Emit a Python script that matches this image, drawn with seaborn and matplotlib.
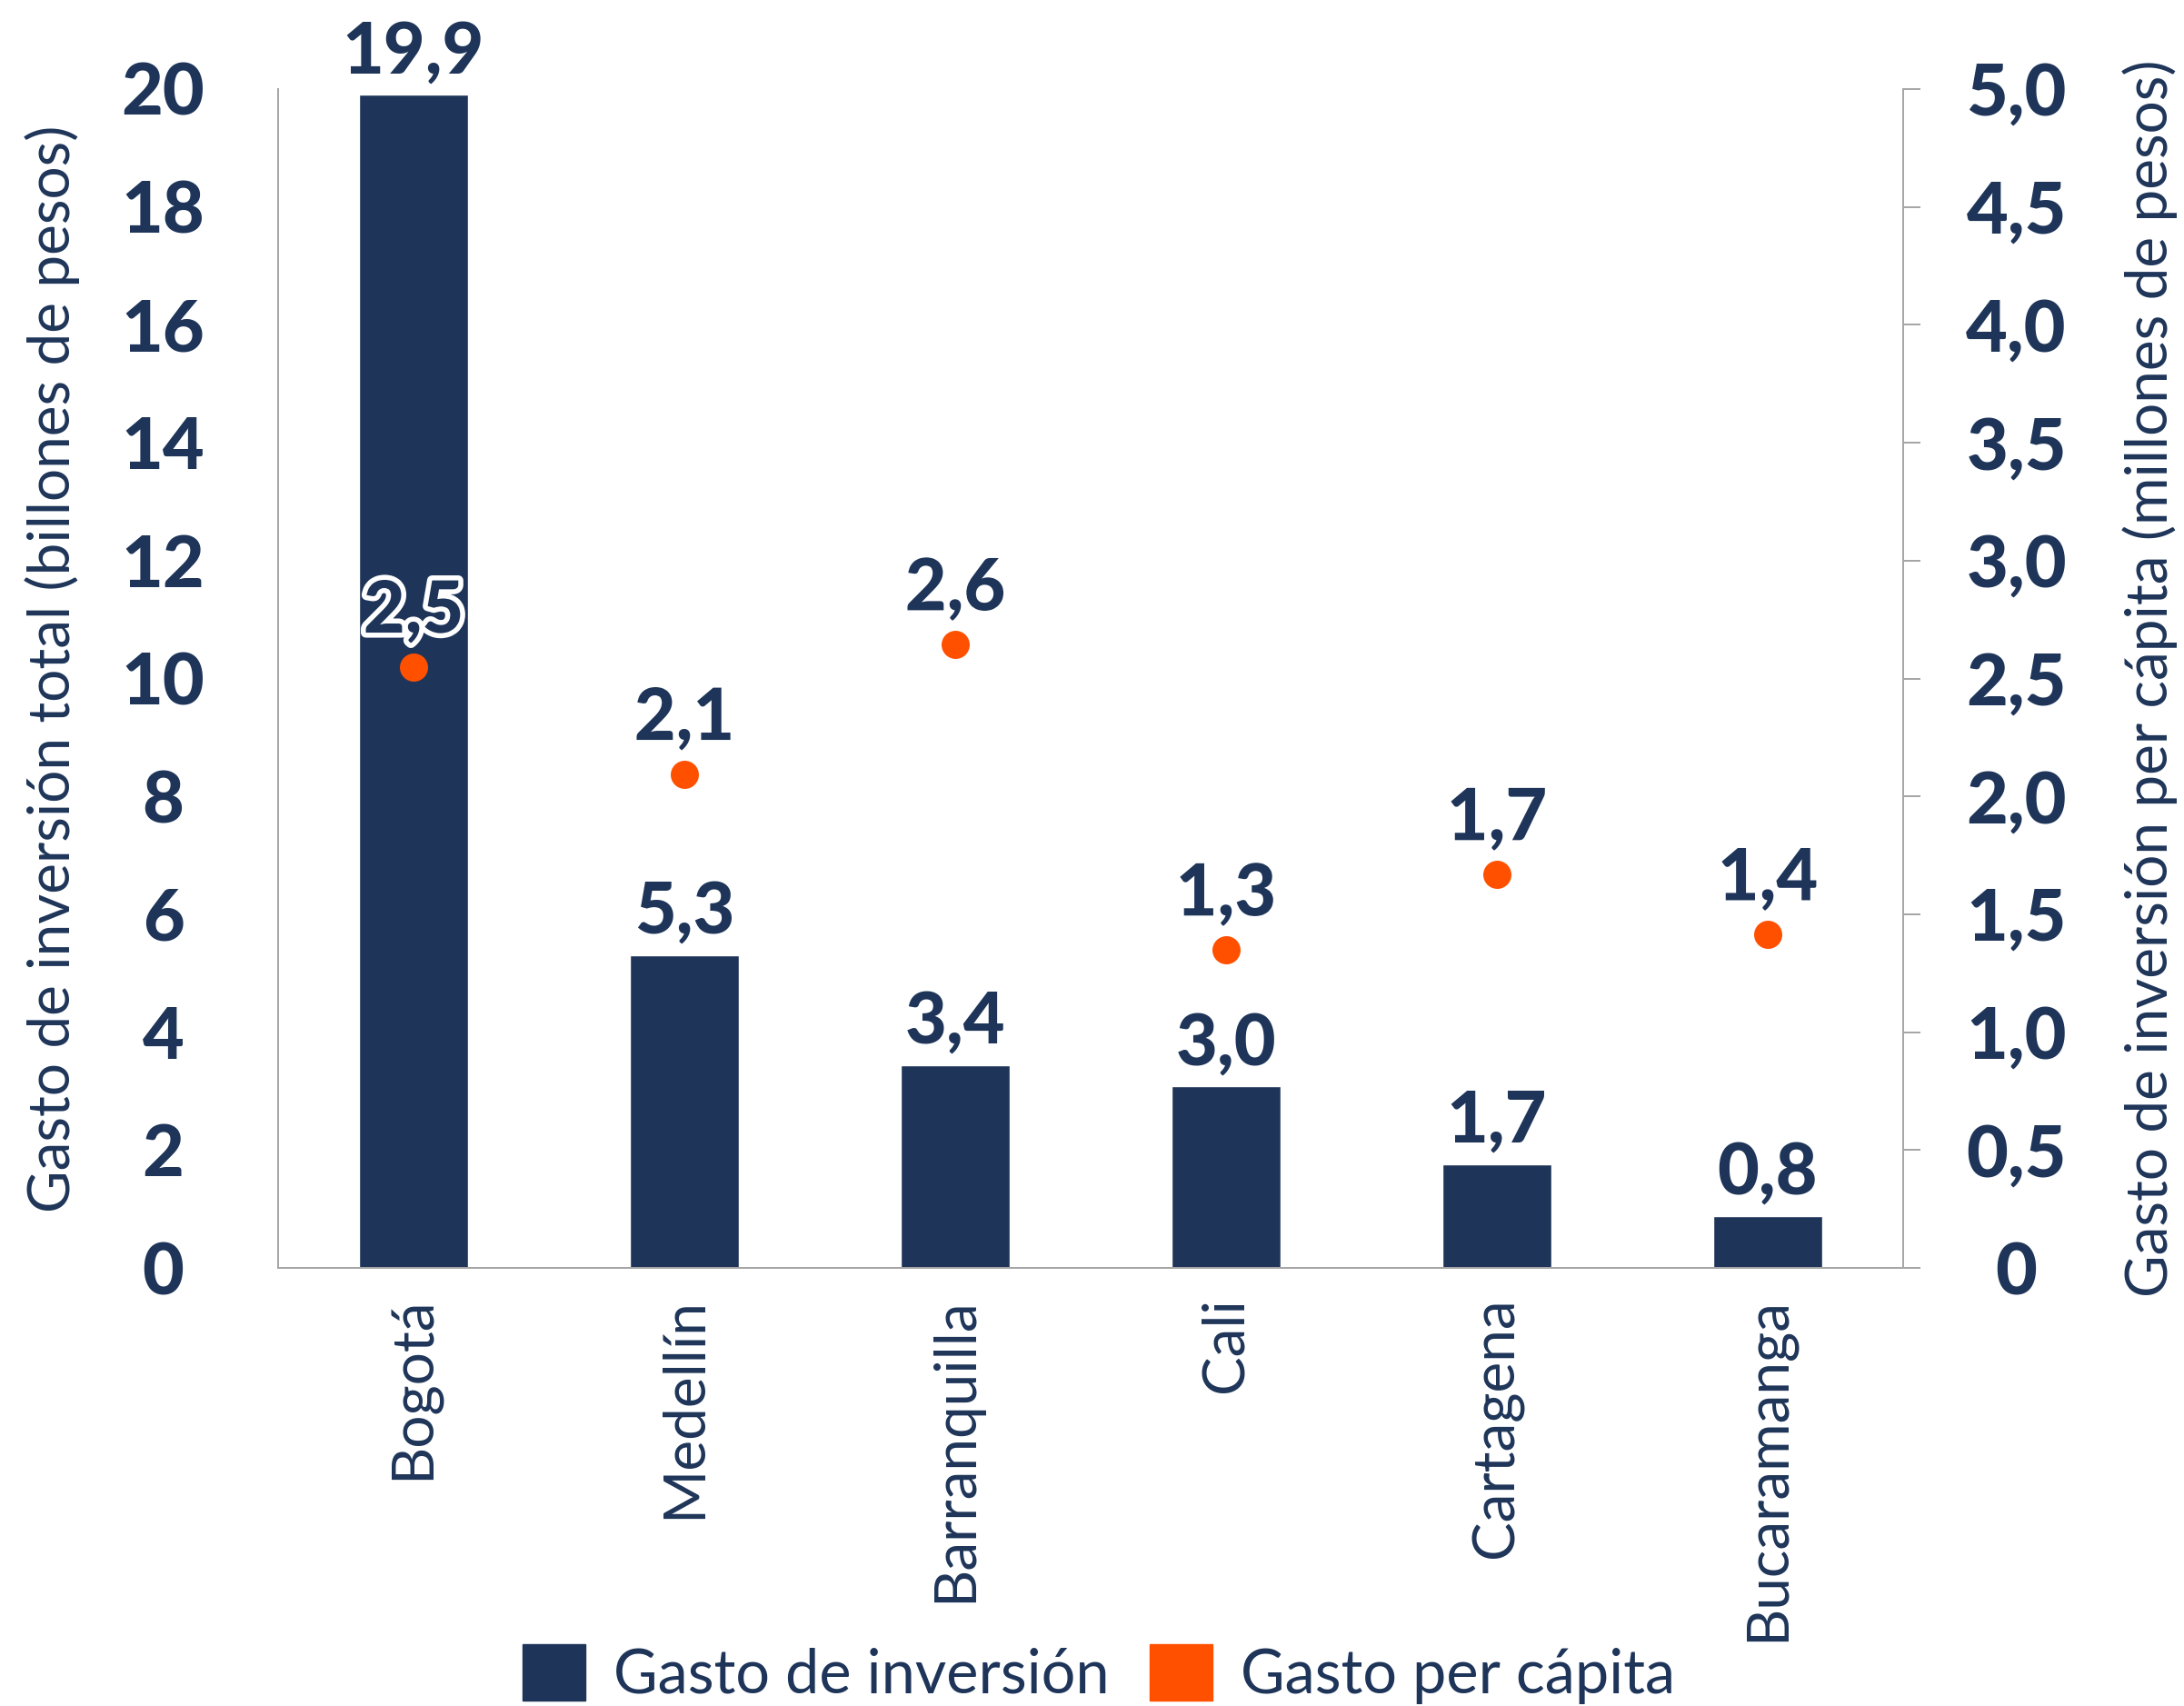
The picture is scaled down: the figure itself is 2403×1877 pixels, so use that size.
import matplotlib
matplotlib.use("Agg")
import matplotlib.pyplot as plt
import matplotlib.patheffects as pe
from matplotlib.patches import Patch
import seaborn as sns
import pandas as pd

# ---- data ----
ciudades = ["Bogotá", "Medellín", "Barranquilla", "Cali", "Cartagena", "Bucaramanga"]
gasto_inversion = [19.9, 5.31, 3.44, 3.08, 1.76, 0.88]
etiquetas_inversion = ["19,9", "5,3", "3,4", "3,0", "1,7", "0,8"]
gasto_per_capita = [2.55, 2.095, 2.645, 1.35, 1.67, 1.415]
etiquetas_per_capita = ["2,5", "2,1", "2,6", "1,3", "1,7", "1,4"]
ticks_izq = [0, 2, 4, 6, 8, 10, 12, 14, 16, 18, 20]
ticks_der = [0, 0.5, 1.0, 1.5, 2.0, 2.5, 3.0, 3.5, 4.0, 4.5, 5.0]
ticks_der_lbl = ["0", "0,5", "1,0", "1,5", "2,0", "2,5", "3,0", "3,5", "4,0", "4,5", "5,0"]
leyenda = ["Gasto de inversión", "Gasto per cápita"]

NAVY = "#1e3559"
ORANGE = "#ff5000"
GRAY = "#a6a6a6"
NUMW = "black"

sns.set_style("white")
plt.rcParams['font.family'] = ['Lato', 'DejaVu Sans']

df = pd.DataFrame({"ciudad": ciudades, "inv": gasto_inversion, "pc": gasto_per_capita})

fig = plt.figure(figsize=(24.03, 18.77), dpi=100)
ax = fig.add_axes([0.12734, 0.25679, 0.74407, 0.69100])

sns.barplot(data=df, x="ciudad", y="inv", order=ciudades, color=NAVY,
            saturation=1, width=0.4, ax=ax)
ax.bar_label(ax.containers[0], labels=etiquetas_inversion, padding=8,
             fontsize=57, fontweight=NUMW, color=NAVY)

ax2 = ax.twinx()
sns.stripplot(data=df, x="ciudad", y="pc", order=ciudades, jitter=False,
              color=ORANGE, size=22.3, linewidth=0, ax=ax2, zorder=3)
for i, (v, lab) in enumerate(zip(gasto_per_capita, etiquetas_per_capita)):
    ax2.annotate(lab, (i, v), xytext=(0, 27), textcoords='offset points',
                 ha='center', va='baseline', fontsize=57, fontweight=NUMW,
                 color=NAVY, zorder=5,
                 path_effects=[pe.withStroke(linewidth=8, foreground='white')])

ax.set_xlim(-0.5, 5.5)
ax.set_ylim(0, 20)
ax2.set_ylim(0, 5)

ax.set_yticks(ticks_izq)
ax.set_yticklabels([str(t) for t in ticks_izq], fontsize=57, fontweight=NUMW,
                   color=NAVY, ha='center')
ax.tick_params(axis='y', length=0, pad=91)

ax2.set_yticks(ticks_der)
ax2.set_yticklabels(ticks_der_lbl, fontsize=57, fontweight=NUMW, color=NAVY, ha='center')
ax2.tick_params(axis='y', length=13.7, width=1.44, color=GRAY, pad=76, direction='out')

ax.set_xticks(range(len(ciudades)))
ax.set_xticklabels(ciudades, rotation=90, fontsize=46, color=NAVY)
ax.tick_params(axis='x', length=0, pad=23)
ax.set_xlabel("")

for s in ["top", "right"]:
    ax.spines[s].set_visible(False)
for s in ["left", "bottom"]:
    ax.spines[s].set_color(GRAY)
    ax.spines[s].set_linewidth(1.44)
for s in ["top", "left", "bottom"]:
    ax2.spines[s].set_visible(False)
ax2.spines["right"].set_color(GRAY)
ax2.spines["right"].set_linewidth(1.44)

ax.set_ylabel("Gasto de inversión total (billones de pesos)", fontsize=46, color=NAVY)
ax.yaxis.set_label_coords(-0.1387, 0.508)
ax.yaxis.label.set_va('center')
ax2.set_ylabel("Gasto de inversión per cápita (millones de pesos)", fontsize=46,
               color=NAVY, rotation=90)
ax2.yaxis.set_label_coords(1.152, 0.5)
ax2.yaxis.label.set_va('center')

handles = [Patch(color=NAVY, label=leyenda[0]), Patch(color=ORANGE, label=leyenda[1])]
fig.legend(handles=handles, loc='center', bbox_to_anchor=(0.503, 0.0186), ncol=2,
           frameon=False, fontsize=48, handlelength=1.04, handleheight=1.04,
           handletextpad=0.46, columnspacing=0.67, labelcolor=NAVY, borderpad=0)

fig.savefig("out.png", dpi=100)
